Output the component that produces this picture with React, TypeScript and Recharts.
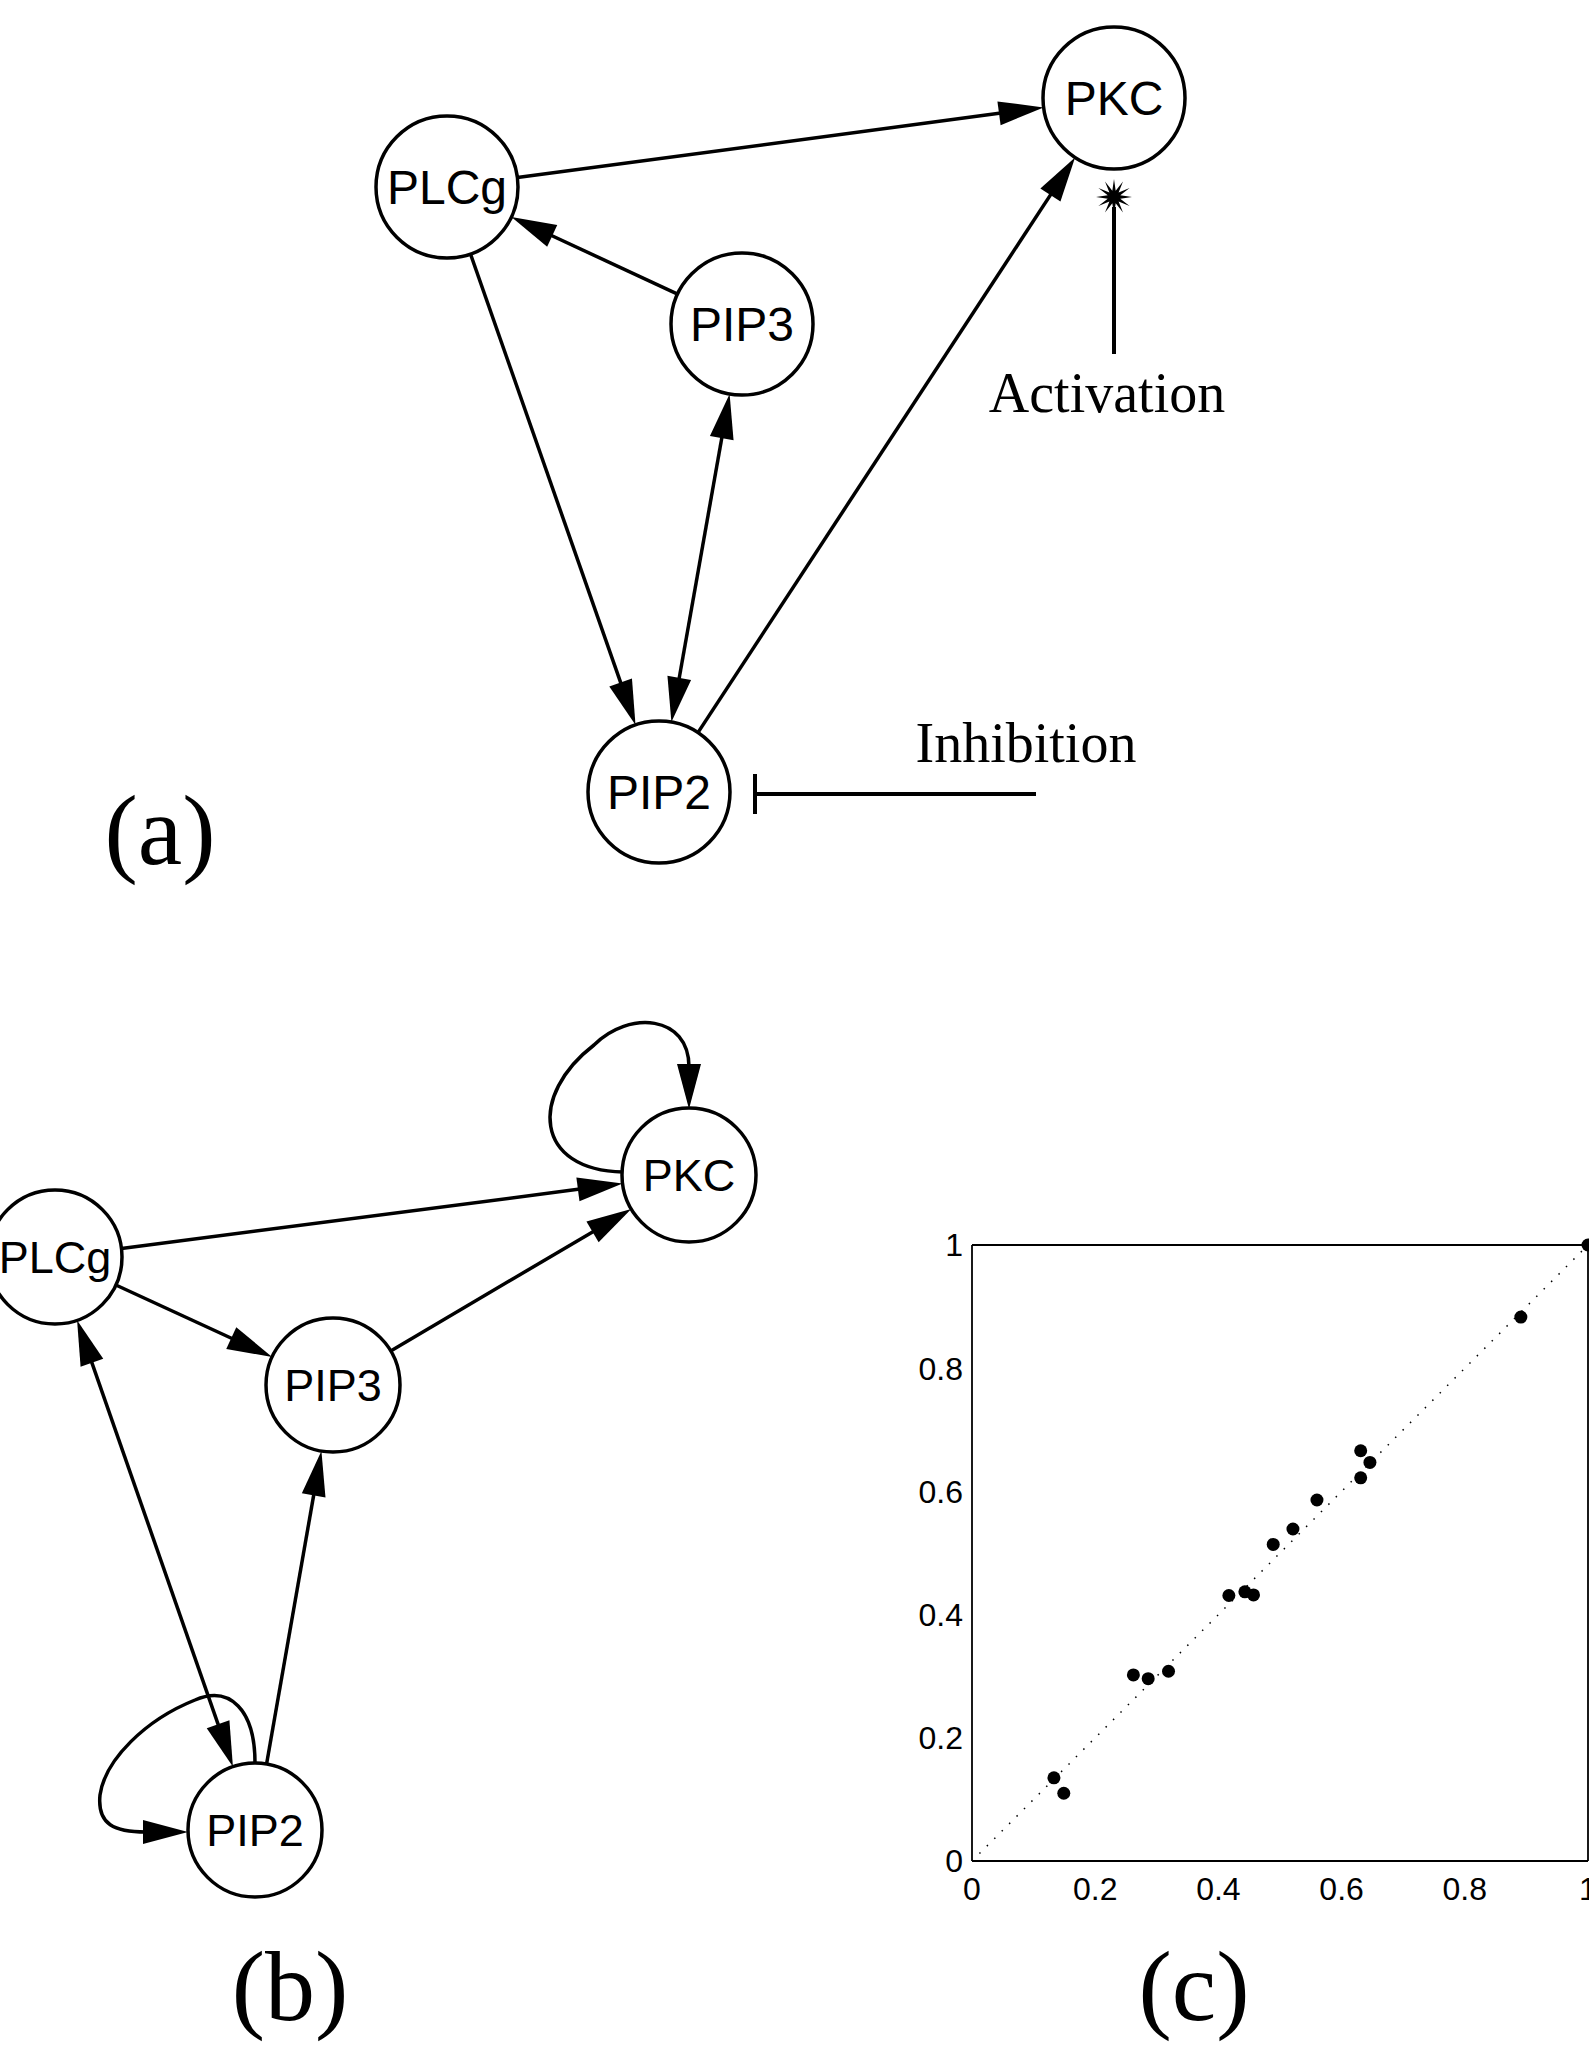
import React from "react";
import {
  ScatterChart,
  Scatter,
  XAxis,
  YAxis,
  ReferenceLine,
  ReferenceDot,
} from "recharts";

// ---- network (a): node layout and edges ----
const nodesA = [
  { name: "PKC", x: 1114, y: 98 },
  { name: "PLCg", x: 447, y: 187 },
  { name: "PIP3", x: 742, y: 324 },
  { name: "PIP2", x: 659, y: 792 },
];
const edgesA = [
  { from: "PLCg", to: "PKC", both: false },
  { from: "PIP3", to: "PLCg", both: false },
  { from: "PLCg", to: "PIP2", both: false },
  { from: "PIP3", to: "PIP2", both: true },
  { from: "PIP2", to: "PKC", both: false },
];

// ---- network (b) ----
const nodesB = [
  { name: "PKC", x: 689, y: 1175 },
  { name: "PLCg", x: 55, y: 1257 },
  { name: "PIP3", x: 333, y: 1385 },
  { name: "PIP2", x: 255, y: 1830 },
];
const edgesB = [
  { from: "PLCg", to: "PKC", both: false },
  { from: "PLCg", to: "PIP3", both: false },
  { from: "PIP3", to: "PKC", both: false },
  { from: "PLCg", to: "PIP2", both: true },
  { from: "PIP2", to: "PIP3", both: false },
];
const selfLoopsB = ["PKC", "PIP2"];

// ---- scatter (c) ----
const scatterX = [0.133, 0.149, 0.262, 0.286, 0.319, 0.417, 0.443, 0.457, 0.489, 0.521, 0.56, 0.631, 0.631, 0.646, 0.891, 1.0];
const scatterY = [0.135, 0.11, 0.302, 0.296, 0.308, 0.431, 0.437, 0.432, 0.514, 0.539, 0.586, 0.622, 0.666, 0.647, 0.883, 1.0];
const unitTicks = [0, 0.2, 0.4, 0.6, 0.8, 1];

const panelLabels = ["(a)", "(b)", "(c)"];

const points = scatterX.map((x, i) => ({ x, y: scatterY[i] }));
const loopNodesB = nodesB.filter((n) => selfLoopsB.includes(n.name));

const SANS = "Liberation Sans, Arial, sans-serif";
const SERIF = "Liberation Serif, Times New Roman, serif";
const LW = 3.5;
const HEAD_L = 45;
const HEAD_W = 12;

const lookup = (nodes: { name: string; x: number; y: number }[]) =>
  Object.fromEntries(nodes.map((n) => [n.name, n]));

function head(tx: number, ty: number, ux: number, uy: number) {
  const bx = tx - ux * HEAD_L;
  const by = ty - uy * HEAD_L;
  const nx = -uy;
  const ny = ux;
  return `${tx},${ty} ${bx + nx * HEAD_W},${by + ny * HEAD_W} ${bx - nx * HEAD_W},${by - ny * HEAD_W}`;
}

function edgeShape(r: number, both: boolean) {
  return (p: any) => {
    const { x1, y1, x2, y2 } = p;
    const d = Math.hypot(x2 - x1, y2 - y1);
    const ux = (x2 - x1) / d;
    const uy = (y2 - y1) / d;
    const sx = x1 + ux * r;
    const sy = y1 + uy * r;
    const ex = x2 - ux * r;
    const ey = y2 - uy * r;
    const ls = both ? HEAD_L - 2 : 0;
    return (
      <g>
        <line
          x1={sx + ux * ls}
          y1={sy + uy * ls}
          x2={ex - ux * (HEAD_L - 2)}
          y2={ey - uy * (HEAD_L - 2)}
          stroke="#000"
          strokeWidth={LW}
        />
        <polygon points={head(ex, ey, ux, uy)} fill="#000" />
        {both && <polygon points={head(sx, sy, -ux, -uy)} fill="#000" />}
      </g>
    );
  };
}

function nodeShape(r: number, fs: number) {
  return (p: any) => {
    const { cx, cy, payload } = p;
    return (
      <g>
        <circle cx={cx} cy={cy} r={r} fill="#fff" stroke="#000" strokeWidth={LW} />
        <text
          x={cx}
          y={cy + fs * 0.36}
          textAnchor="middle"
          fontFamily={SANS}
          fontSize={fs}
          fill="#000"
        >
          {payload.name}
        </text>
      </g>
    );
  };
}

function loopShape(p: any) {
  const { cx, cy, payload } = p;
  if (payload.name === "PKC") {
    const d = `M ${cx - 66} ${cy - 3} C ${cx - 155} ${cy - 5} ${cx - 160} ${cy - 80} ${cx - 95} ${cy - 130} C ${cx - 60} ${cy - 165} ${cx} ${cy - 160} ${cx} ${cy - 108}`;
    return (
      <g>
        <path d={d} fill="none" stroke="#000" strokeWidth={LW} />
        <polygon points={head(cx, cy - 66, 0, 1)} fill="#000" />
      </g>
    );
  }
  const d = `M ${cx} ${cy - 67} C ${cx} ${cy - 120} ${cx - 25} ${cy - 145} ${cx - 60} ${cy - 130} C ${cx - 110} ${cy - 110} ${cx - 150} ${cy - 70} ${cx - 155} ${cy - 35} C ${cx - 158} ${cy - 5} ${cx - 140} ${cy + 2} ${cx - 109} ${cy + 2}`;
  return (
    <g>
      <path d={d} fill="none" stroke="#000" strokeWidth={LW} />
      <polygon points={head(cx - 67, cy + 2, 1, 0)} fill="#000" />
    </g>
  );
}

function starPoints(cx: number, cy: number) {
  const pts: string[] = [];
  for (let i = 0; i < 24; i++) {
    const a = (i * Math.PI) / 12 - Math.PI / 2;
    const rr = i % 2 === 0 ? 18 : 6.5;
    pts.push(`${cx + Math.cos(a) * rr},${cy + Math.sin(a) * rr}`);
  }
  return pts.join(" ");
}

const activationShape = (p: any) => (
  <g>
    <line x1={p.x1} y1={p.y1} x2={p.x2} y2={p.y2 + 10} stroke="#000" strokeWidth={4} />
    <polygon points={starPoints(p.x2, p.y2)} fill="#000" />
  </g>
);

const inhibitionShape = (p: any) => (
  <g>
    <line x1={p.x1} y1={p.y1} x2={p.x2} y2={p.y2} stroke="#000" strokeWidth={4} />
    <line x1={p.x2} y1={p.y2 - 20} x2={p.x2} y2={p.y2 + 20} stroke="#000" strokeWidth={4} />
  </g>
);

const textShape = (label: string, fs: number) => (p: any) => (
  <text x={p.cx} y={p.cy} textAnchor="middle" fontFamily={SERIF} fontSize={fs} fill="#000">
    {label}
  </text>
);

const dotShape = (p: any) => <circle cx={p.cx} cy={p.cy} r={6.5} fill="#000" />;

export default function App() {
  const posA = lookup(nodesA);
  const posB = lookup(nodesB);
  const axisStroke = { stroke: "#000", strokeWidth: 1.8 };
  const tickStyle = { fill: "#000", fontSize: 32, fontFamily: SANS };

  return (
    <div
      style={{
        position: "absolute",
        left: 0,
        top: 0,
        width: 1589,
        height: 2048,
        overflow: "hidden",
        background: "#fff",
      }}
    >
      {/* networks (a) and (b) */}
      <div style={{ position: "absolute", left: 0, top: 0 }}>
        <ScatterChart width={1589} height={2048} margin={{ top: 0, right: 0, bottom: 0, left: 0 }}>
          <XAxis type="number" dataKey="x" domain={[0, 1589]} allowDataOverflow hide />
          <YAxis type="number" dataKey="y" domain={[0, 2048]} allowDataOverflow reversed hide />

          {edgesA.map((e, i) => (
            <ReferenceLine
              key={`a${i}`}
              segment={[
                { x: posA[e.from].x, y: posA[e.from].y },
                { x: posA[e.to].x, y: posA[e.to].y },
              ]}
              shape={edgeShape(71, e.both)}
            />
          ))}
          {edgesB.map((e, i) => (
            <ReferenceLine
              key={`b${i}`}
              segment={[
                { x: posB[e.from].x, y: posB[e.from].y },
                { x: posB[e.to].x, y: posB[e.to].y },
              ]}
              shape={edgeShape(67, e.both)}
            />
          ))}

          <ReferenceLine segment={[{ x: 1114, y: 354 }, { x: 1114, y: 197 }]} shape={activationShape} />
          <ReferenceLine segment={[{ x: 1036, y: 794 }, { x: 755, y: 794 }]} shape={inhibitionShape} />

          <Scatter data={loopNodesB} shape={loopShape} isAnimationActive={false} />
          <Scatter data={nodesA} shape={nodeShape(71, 48)} isAnimationActive={false} />
          <Scatter data={nodesB} shape={nodeShape(67, 45)} isAnimationActive={false} />

          <ReferenceDot x={1107} y={412} r={0} shape={textShape("Activation", 56)} />
          <ReferenceDot x={1026} y={762} r={0} shape={textShape("Inhibition", 56)} />
          <ReferenceDot x={160} y={864} r={0} shape={textShape(panelLabels[0], 100)} />
          <ReferenceDot x={290} y={2020} r={0} shape={textShape(panelLabels[1], 100)} />
          <ReferenceDot x={1194} y={2020} r={0} shape={textShape(panelLabels[2], 100)} />
        </ScatterChart>
      </div>

      {/* scatter (c) */}
      <div style={{ position: "absolute", left: 872, top: 1195 }}>
        <ScatterChart width={776} height={736} margin={{ top: 50, right: 60, bottom: 10, left: 40 }}>
          <XAxis
            xAxisId="b"
            type="number"
            dataKey="x"
            domain={[0, 1]}
            ticks={unitTicks}
            height={60}
            tickLine={false}
            tickSize={0}
            tickMargin={16}
            axisLine={axisStroke}
            tick={tickStyle}
          />
          <XAxis xAxisId="bm" type="number" domain={[0, 1]} ticks={unitTicks} allowDataOverflow mirror tick={false} tickSize={7} tickLine={axisStroke} axisLine={false} />
          <XAxis xAxisId="t" orientation="top" type="number" domain={[0, 1]} ticks={unitTicks} allowDataOverflow mirror tick={false} tickSize={7} tickLine={axisStroke} axisLine={axisStroke} />
          <YAxis
            yAxisId="l"
            type="number"
            dataKey="y"
            domain={[0, 1]}
            ticks={unitTicks}
            width={60}
            tickLine={false}
            tickSize={0}
            tickMargin={9}
            axisLine={axisStroke}
            tick={tickStyle}
          />
          <YAxis yAxisId="lm" type="number" domain={[0, 1]} ticks={unitTicks} allowDataOverflow mirror tick={false} tickSize={7} tickLine={axisStroke} axisLine={false} />
          <YAxis yAxisId="r" orientation="right" type="number" domain={[0, 1]} ticks={unitTicks} allowDataOverflow mirror tick={false} tickSize={7} tickLine={axisStroke} axisLine={axisStroke} />

          <ReferenceLine
            xAxisId="b"
            yAxisId="l"
            segment={[{ x: 0, y: 0 }, { x: 1, y: 1 }]}
            stroke="#000"
            strokeWidth={1.5}
            strokeDasharray="1.5 9"
          />
          <Scatter xAxisId="b" yAxisId="l" data={points} shape={dotShape} isAnimationActive={false} />
        </ScatterChart>
      </div>
    </div>
  );
}
